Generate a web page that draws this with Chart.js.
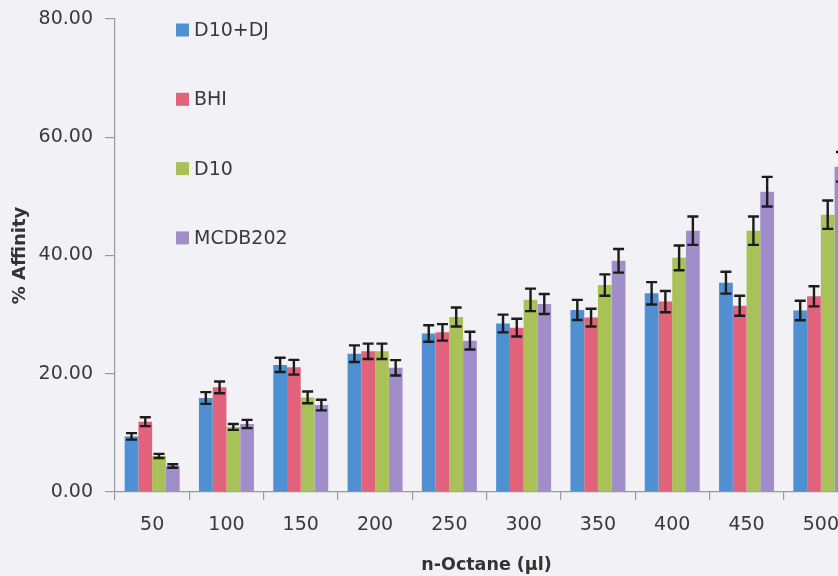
<!DOCTYPE html>
<html>
<head>
<meta charset="utf-8">
<script src="https://cdn.jsdelivr.net/npm/chart.js@4/dist/chart.umd.min.js"></script>
<style>
  html, body { margin: 0; padding: 0; overflow: hidden; background: #f2f2f6; }
  #wrap { width: 880px; height: 576px; }
</style>
</head>
<body>
<div id="wrap"><canvas id="chart"></canvas></div>
<script>
const categories = ["50", "100", "150", "200", "250", "300", "350", "400", "450", "500"];
const seriesNames = ["D10+DJ", "BHI", "D10", "MCDB202"];

const d10dj = [9.4, 15.9, 21.5, 23.4, 26.8, 28.5, 30.8, 33.6, 35.4, 30.7];
const bhi = [11.9, 17.7, 21.1, 23.8, 27.0, 27.8, 29.5, 32.2, 31.5, 33.1];
const d10 = [6.1, 11.0, 16.0, 23.8, 29.6, 32.5, 35.0, 39.6, 44.2, 46.9];
const mcdb202 = [4.4, 11.5, 14.7, 21.0, 25.6, 31.8, 39.1, 44.2, 50.8, 55.0];

const d10djErr = [0.55, 1.0, 1.2, 1.4, 1.4, 1.5, 1.7, 1.9, 1.85, 1.65];
const bhiErr = [0.75, 1.0, 1.25, 1.3, 1.4, 1.5, 1.5, 1.8, 1.7, 1.7];
const d10Err = [0.35, 0.5, 1.0, 1.3, 1.6, 1.9, 1.8, 2.1, 2.4, 2.4];
const mcdb202Err = [0.3, 0.7, 0.9, 1.3, 1.5, 1.7, 2.0, 2.4, 2.5, 2.5];

const yTicks = [0, 20, 40, 60, 80];

const colors = ["#4f8fd2", "#e2627c", "#a9c258", "#a08dca"];
const FONT = "'DejaVu Sans', 'Open Sans', sans-serif";

// error bars drawn from the y scale
const errorBars = {
  id: "errorBars",
  afterDatasetsDraw(chart) {
    const ctx = chart.ctx;
    const y = chart.scales.y;
    ctx.save();
    ctx.strokeStyle = "#1c1c1c";
    ctx.lineWidth = 2.4;
    chart.data.datasets.forEach((ds, i) => {
      const meta = chart.getDatasetMeta(i);
      meta.data.forEach((bar, j) => {
        const v = ds.data[j];
        const e = ds.errors[j];
        const top = y.getPixelForValue(v + e);
        const bot = y.getPixelForValue(v - e);
        const x = bar.x;
        const cap = 5.5;
        ctx.beginPath();
        ctx.moveTo(x, top);
        ctx.lineTo(x, bot);
        ctx.moveTo(x - cap, top);
        ctx.lineTo(x + cap, top);
        ctx.moveTo(x - cap, bot);
        ctx.lineTo(x + cap, bot);
        ctx.stroke();
      });
    });
    ctx.restore();
  },
};

// legend sitting inside the plot, one entry per row
const insideLegend = {
  id: "insideLegend",
  afterDraw(chart) {
    const ctx = chart.ctx;
    const area = chart.chartArea;
    ctx.save();
    ctx.font = "19px " + FONT;
    ctx.textBaseline = "middle";
    chart.data.datasets.forEach((ds, i) => {
      const cy = area.top + 11 + i * 69.3;
      const bx = area.left + 61;
      ctx.fillStyle = ds.backgroundColor;
      ctx.fillRect(bx, cy - 6.5, 13, 13);
      ctx.fillStyle = "#3a3a3a";
      ctx.fillText(ds.label, bx + 18, cy + 1);
    });
    ctx.restore();
  },
};

const allValues = [d10dj, bhi, d10, mcdb202];
const allErrors = [d10djErr, bhiErr, d10Err, mcdb202Err];

new Chart(document.getElementById("chart"), {
  type: "bar",
  data: {
    labels: categories,
    datasets: seriesNames.map((name, i) => ({
      label: name,
      data: allValues[i],
      errors: allErrors[i],
      backgroundColor: colors[i],
      categoryPercentage: 0.74,
      barPercentage: 1.0,
    })),
  },
  options: {
    responsive: true,
    maintainAspectRatio: false,
    animation: false,
    layout: { padding: { left: 0, right: 22, top: 19, bottom: 0 } },
    plugins: {
      legend: { display: false },
      tooltip: { enabled: false },
    },
    scales: {
      x: {
        afterFit(scale) { scale.height = 84; },
        grid: {
          display: true,
          offset: true,
          drawOnChartArea: false,
          tickLength: 8,
          color: "#9a9a9a",
          lineWidth: 1.2,
        },
        border: { display: true, color: "#9a9a9a", width: 1.2 },
        ticks: {
          color: "#3a3a3a",
          padding: 14,
          font: { family: FONT, size: 19 },
        },
        title: {
          display: true,
          text: "n-Octane (µl)",
          color: "#333",
          font: { family: FONT, size: 17.5, weight: "bold" },
          padding: { top: 0, bottom: 0 },
        },
      },
      y: {
        min: 0,
        max: 80,
        afterFit(scale) {
          scale.width = 115;
          scale.paddingTop = 0;
          scale.paddingBottom = 0;
        },
        afterBuildTicks(scale) { scale.ticks = yTicks.map((v) => ({ value: v })); },
        grid: {
          display: true,
          drawOnChartArea: false,
          tickLength: 10,
          color: "#9a9a9a",
          lineWidth: 1.2,
        },
        border: { display: true, color: "#9a9a9a", width: 1.2 },
        ticks: {
          color: "#3a3a3a",
          padding: 12,
          font: { family: FONT, size: 19 },
          callback: (v) => Number(v).toFixed(2),
        },
        title: {
          display: true,
          text: "% Affinity",
          color: "#333",
          font: { family: FONT, size: 18, weight: "bold" },
          padding: { top: 10, bottom: 0 },
        },
      },
    },
  },
  plugins: [errorBars, insideLegend],
});
</script>
</body>
</html>
